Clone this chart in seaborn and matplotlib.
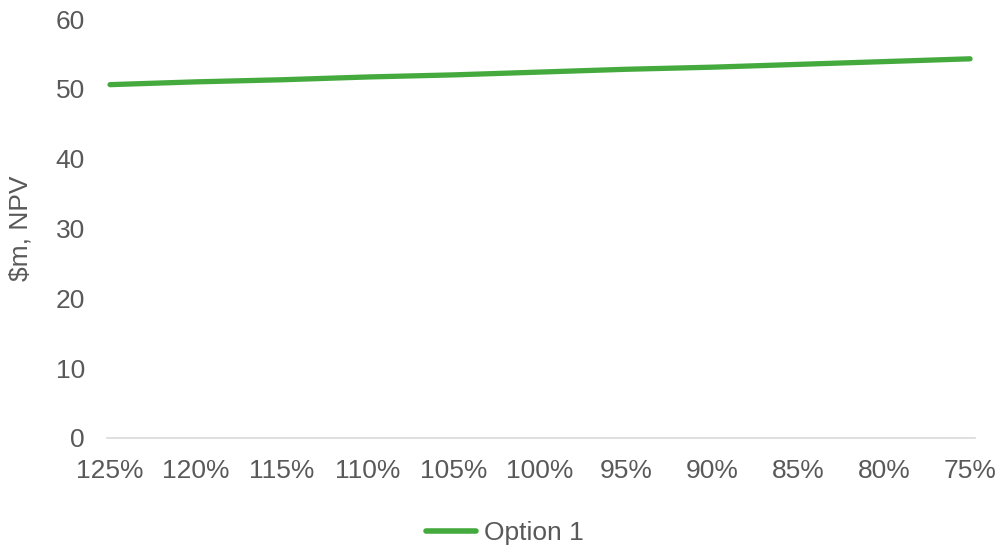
import matplotlib
matplotlib.use("Agg")
import matplotlib.pyplot as plt
import seaborn as sns
import pandas as pd

# Sensitivity of NPV to the cost factor
scenarios = ["125%", "120%", "115%", "110%", "105%", "100%",
             "95%", "90%", "85%", "80%", "75%"]
option_1 = [50.6, 51.0, 51.3, 51.7, 52.0, 52.4, 52.8, 53.1, 53.5, 53.9, 54.3]
series_name = "Option 1"
y_ticks = [0, 10, 20, 30, 40, 50, 60]

sns.set_theme(style="white")
plt.rcParams["font.family"] = ["Liberation Sans", "DejaVu Sans"]

text_color = "#595959"
line_color = "#44AA3E"
fs = 19

df = pd.DataFrame({
    "pos": range(len(scenarios)),
    "scenario": scenarios,
    "npv": option_1,
    "series": series_name,
})

fig = plt.figure(figsize=(10.03, 5.54), dpi=100)
ax = fig.add_axes([0.1067, 0.2094, 0.8654, 0.7563])

sns.lineplot(data=df, x="pos", y="npv", hue="series",
             palette=[line_color], linewidth=3.8, ax=ax,
             solid_capstyle="round", legend=True)

ax.set_xlim(-0.035, 10.058)
ax.set_ylim(0, 60)
ax.set_yticks(y_ticks)
ax.set_yticklabels([str(v) for v in y_ticks])
ax.set_xticks(list(df["pos"]))
ax.set_xticklabels(scenarios)
ax.tick_params(axis="both", length=0, labelsize=fs, colors=text_color)
ax.tick_params(axis="x", pad=15)
ax.tick_params(axis="y", pad=16)
ax.set_xlabel("")
ax.set_ylabel("$m, NPV", fontsize=fs, color=text_color)
ax.yaxis.set_label_coords(-0.086, 0.5)

for side in ["top", "right", "left"]:
    ax.spines[side].set_visible(False)
ax.spines["bottom"].set_color("#D9D9D9")
ax.spines["bottom"].set_linewidth(1.2)
ax.spines["bottom"].set_zorder(0)

handles, labels = ax.get_legend_handles_labels()
ax.legend_.remove()
leg = fig.legend(handles, labels, loc="center", bbox_to_anchor=(0.503, 0.038),
                 frameon=False, fontsize=fs, handlelength=1.9,
                 handletextpad=0.3, labelcolor=text_color)
for h in leg.legend_handles:
    h.set_linewidth(4)
    h.set_solid_capstyle("round")

fig.savefig("out.png", dpi=100)
